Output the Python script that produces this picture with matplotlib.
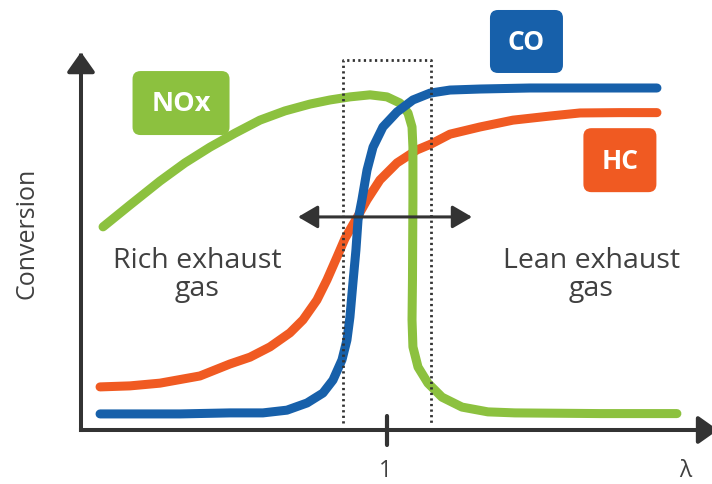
import matplotlib
matplotlib.use("Agg")
import matplotlib.pyplot as plt
from matplotlib.patches import FancyArrowPatch, FancyBboxPatch
from matplotlib.transforms import IdentityTransform

# ---- data (lambda, conversion %) ----
co_lam = [0.8087, 0.862, 0.8953, 0.9173, 0.9333, 0.9467, 0.9573, 0.964, 0.97, 0.9733,
          0.9753, 0.9773, 0.9793, 0.9807, 0.9833, 0.9867, 0.9907, 0.9973, 1.0067, 1.0173,
          1.0287, 1.042, 1.062, 1.0953, 1.142, 1.18]
co_conv = [4.7, 4.7, 5.0, 5.0, 5.8, 7.9, 10.8, 14.6, 20.5, 26.3,
           33.0, 43.0, 52.6, 61.4, 67.3, 76.0, 82.7, 88.6, 93.0, 96.5,
           98.5, 99.4, 99.7, 100.0, 100.0, 100.0]

hc_lam = [0.8087, 0.8287, 0.8487, 0.8753, 0.8953, 0.9087, 0.922, 0.9353, 0.944, 0.9533,
          0.96, 0.9667, 0.972, 0.9767, 0.9807, 0.9867, 0.9953, 1.0067, 1.02, 1.0293,
          1.042, 1.062, 1.084, 1.1087, 1.1287, 1.1553, 1.18]
hc_conv = [12.6, 12.9, 13.7, 15.8, 19.3, 21.3, 24.3, 28.4, 32.2, 38.0,
           43.9, 50.6, 56.0, 59.6, 62.6, 67.3, 73.1, 78.1, 81.9, 83.6,
           86.5, 88.6, 90.6, 91.8, 92.7, 92.8, 92.8]

nox_lam = [0.8107, 0.8287, 0.8487, 0.8653, 0.882, 0.8987, 0.9153, 0.932, 0.9487, 0.962,
           0.9753, 0.9887, 1.0, 1.0087, 1.014, 1.0167, 1.0173, 1.0173, 1.017, 1.0167,
           1.0173, 1.0207, 1.0273, 1.0367, 1.05, 1.0673, 1.0853, 1.142, 1.1933]
nox_conv = [59.4, 65.8, 72.8, 78.1, 82.7, 86.8, 90.6, 93.3, 95.3, 96.5,
            97.4, 98.0, 97.4, 95.6, 92.7, 88.6, 82.7, 67.3, 43.9, 32.2,
            24.3, 18.4, 13.7, 9.6, 6.7, 5.3, 5.0, 4.8, 4.8]

window_lam = [0.9707, 1.0293]      # dotted operating window
window_conv = [2.0, 108.2]
arrow_lam = [0.9407, 1.0567]       # double arrow
arrow_conv = 62.3
tick_lam = 1.0
tick_label = "1"
x_label = "λ"
y_label = "Conversion"

GREEN = "#8cc13f"
BLUE = "#1760aa"
ORANGE = "#f05a22"
DARK = "#333333"
TEXT = "#404040"

fig = plt.figure(figsize=(7.12, 4.84), dpi=100)
ax = fig.add_axes([0, 0, 1, 1])
ax.set_xlim(0.742, 1.2167)
ax.set_ylim(-15.79, 125.73)
ax.axis("off")

FONT = ["Open Sans", "DejaVu Sans"]

lw_curve = 6.5
ax.plot(hc_lam, hc_conv, color=ORANGE, lw=lw_curve, solid_capstyle="round",
        solid_joinstyle="round", zorder=3)
ax.plot(nox_lam, nox_conv, color=GREEN, lw=lw_curve, solid_capstyle="round",
        solid_joinstyle="round", zorder=4)
ax.plot(co_lam, co_conv, color=BLUE, lw=lw_curve, solid_capstyle="round",
        solid_joinstyle="round", zorder=5)

# dotted window
wx = [window_lam[0], window_lam[0], window_lam[1], window_lam[1]]
wy = [window_conv[0], window_conv[1], window_conv[1], window_conv[0]]
ax.plot(wx, wy, color=DARK, lw=2.0, linestyle=(0, (0.8, 1.2)),
        dash_capstyle="butt", zorder=6)

# axes with arrowheads
x0_lam = 0.796
ax.add_patch(FancyArrowPatch((x0_lam, 0), (x0_lam, 110.5),
                             arrowstyle="-|>,head_length=12,head_width=8.5",
                             mutation_scale=1, lw=2.9, color=DARK,
                             shrinkA=0, shrinkB=0, capstyle="projecting", zorder=7))
ax.add_patch(FancyArrowPatch((x0_lam, 0), (1.2207, 0),
                             arrowstyle="-|>,head_length=12,head_width=8.5",
                             mutation_scale=1, lw=2.9, color=DARK,
                             shrinkA=0, shrinkB=0, capstyle="projecting", zorder=7))
# tick at lambda = 1
ax.plot([tick_lam, tick_lam], [4.1, -4.4], color=DARK, lw=3.0,
        solid_capstyle="round", zorder=7)
ax.text(tick_lam - 0.0013, -15.4, tick_label, ha="center", va="bottom",
        fontsize=16.5, color=TEXT, family=FONT)
ax.text(1.1987, -15.4, x_label, ha="center", va="bottom", fontsize=16.5,
        color=TEXT, family=FONT)
ax.text(0.760, 57.6, y_label, ha="center", va="center", rotation=90,
        fontsize=18, color=TEXT, family=FONT)

# double arrow
ax.add_patch(FancyArrowPatch((arrow_lam[0], arrow_conv), (arrow_lam[1], arrow_conv),
                             arrowstyle="<|-|>,head_length=12,head_width=7",
                             mutation_scale=1, lw=2.2, color=DARK,
                             shrinkA=0, shrinkB=0, zorder=8))

# region texts
ax.text(0.8737, 45.3, "Rich exhaust\ngas", ha="center", va="center",
        fontsize=20.5, color=TEXT, family=FONT, linespacing=1.0)
ax.text(1.1363, 45.3, "Lean exhaust\ngas", ha="center", va="center",
        fontsize=20.5, color=TEXT, family=FONT, linespacing=1.0)

# labelled boxes (size in pixels)
fig.canvas.draw()


def label_box(lam, conv, w, h, text, color, size):
    cx, cy = ax.transData.transform((lam, conv))
    box = FancyBboxPatch((cx - w / 2 + 8, cy - h / 2 + 8), w - 16, h - 16,
                         boxstyle="round,pad=8", transform=IdentityTransform(),
                         facecolor=color, edgecolor="none", zorder=9)
    ax.add_patch(box)
    ax.text(lam, conv - 0.4, text, ha="center", va="center", fontsize=size,
            fontweight="bold", color="white", family=FONT, zorder=10)


label_box(0.8627, 95.6, 97, 64, "NOx", GREEN, 19.5)
label_box(1.0930, 113.6, 73, 63, "CO", BLUE, 19)
label_box(1.1553, 78.9, 73, 64, "HC", ORANGE, 19)

fig.savefig("out.png", dpi=100, facecolor="white")
